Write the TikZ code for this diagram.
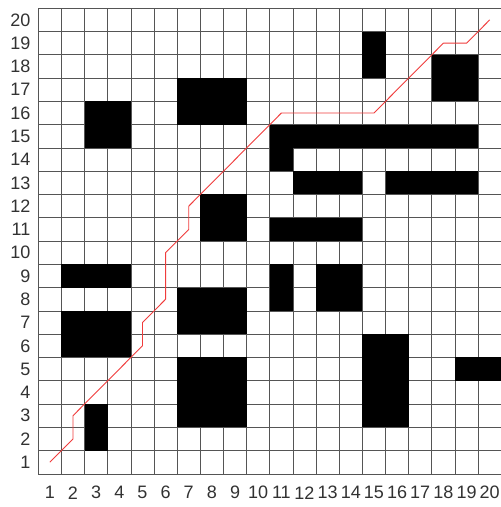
\documentclass[tikz,border=0pt]{standalone}
\usepackage{fontspec}
\setmainfont{Liberation Sans}
\definecolor{routecol}{RGB}{240,60,60}
\definecolor{gridcol}{RGB}{85,85,85}
\definecolor{labcol}{RGB}{50,50,50}
\begin{document}
\begin{tikzpicture}[x=23.15pt,y=23.28pt,
  gridline/.style={draw=gridcol,line width=0.7pt},
  obstacle/.style={fill=black},
  route/.style={draw=routecol,line width=0.9pt,line join=round},
  lab/.style={font=\fontsize{18}{18}\selectfont,text=labcol,inner sep=0pt}]
\useasboundingbox (-26.7pt,-21.5pt) rectangle (474.3pt,485.5pt);
\fill[white] (-26.7pt,-21.5pt) rectangle (474.3pt,485.5pt);
% grid
\foreach \k in {0,...,20} {
  \draw[gridline] (\k+0.5,0.5) -- (\k+0.5,20.5);
  \draw[gridline] (0.5,\k+0.5) -- (20.5,\k+0.5);
}
% obstacles: {col1/col2/row1/row2}
\foreach \ca/\cb/\ra/\rb in {3/3/2/3, 2/4/6/7, 2/4/9/9, 3/4/15/16, 7/9/16/17, 8/9/11/12,
  7/9/7/8, 7/9/3/5, 11/19/15/15, 11/11/14/14, 12/14/13/13, 16/19/13/13, 11/14/11/11,
  11/11/8/9, 13/14/8/9, 15/16/3/6, 19/20/5/5, 15/15/18/19, 18/19/17/18} {
  \fill[obstacle] (\ca-0.5,\ra-0.5) rectangle (\cb+0.5,\rb+0.5);
}
% labels
\foreach \i in {1,...,20} {
  \node[lab] (bx\i) at (\i,-0.31) {\i};
  \node[lab,anchor=east] (ly\i) at (0.165,\i) {\i};
}
% path
\draw[route] (1,1) -- (2,2) -- (2,3) -- (5,6) -- (5,7) -- (6,8) -- (6,10) -- (7,11) -- (7,12)
  -- (11,16) -- (15,16) -- (18,19) -- (19,19) -- (20,20);
\end{tikzpicture}
\end{document}
